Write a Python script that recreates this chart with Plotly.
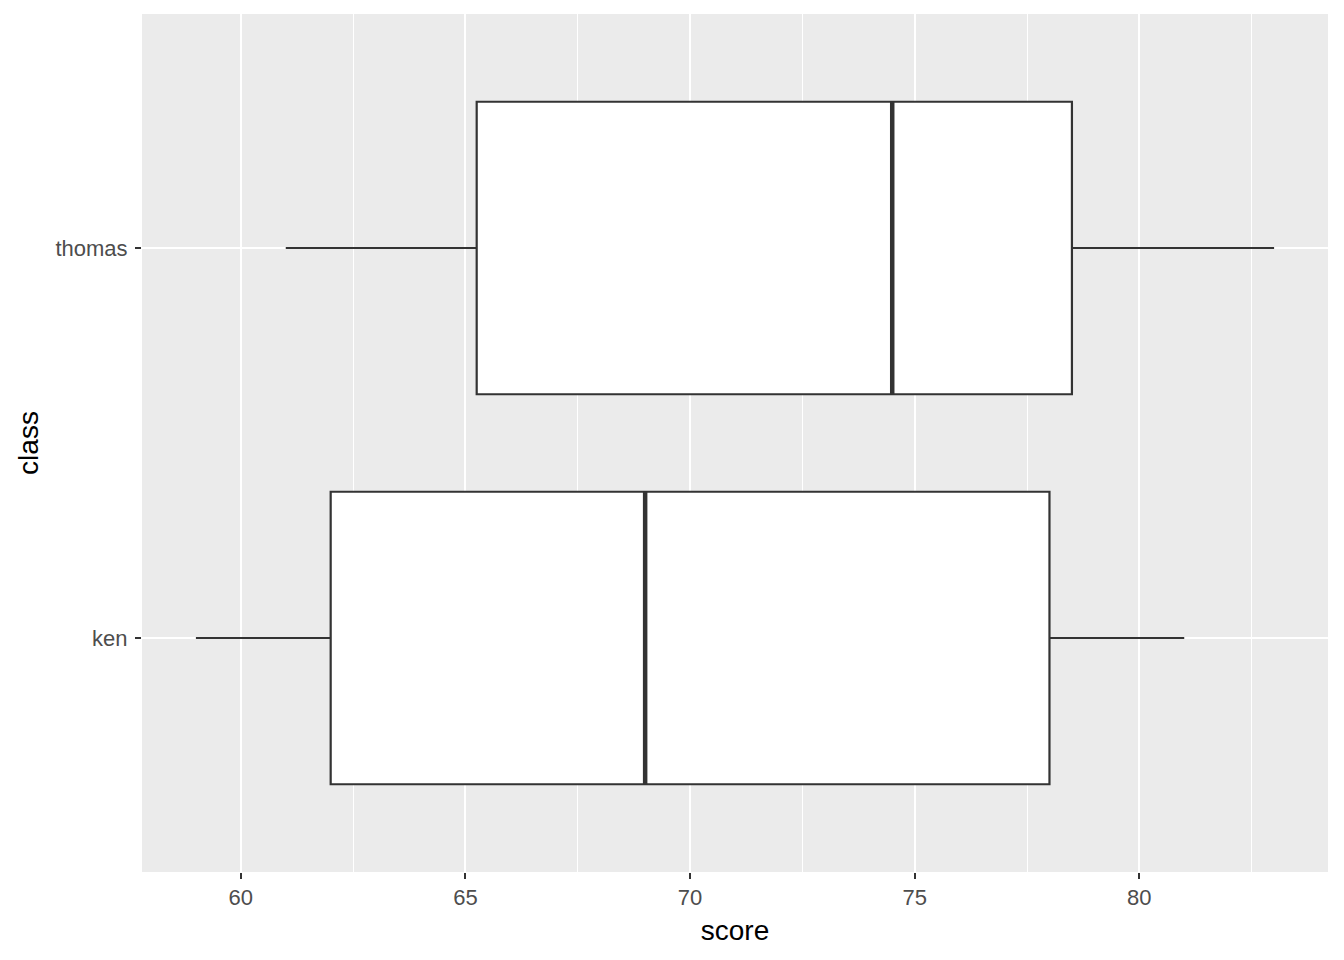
import plotly.graph_objects as go

classes = ["ken", "thomas"]
lower = [59, 61]
q1 = [62, 65.25]
median = [69, 74.5]
q3 = [78, 78.5]
upper = [81, 83]

box_width = 0.75
pos = list(range(len(classes)))

fig = go.Figure()
fig.add_trace(go.Box(
    y=pos, q1=q1, median=median, q3=q3, lowerfence=lower, upperfence=upper,
    orientation="h", width=box_width, whiskerwidth=0,
    fillcolor="white", line=dict(color="#333333", width=2.2),
    boxpoints=False, hoverinfo="skip", showlegend=False,
))
for i, m in enumerate(median):
    fig.add_trace(go.Scatter(
        x=[m, m], y=[pos[i] - box_width / 2, pos[i] + box_width / 2],
        mode="lines", line=dict(color="#333333", width=4.5),
        showlegend=False, hoverinfo="skip",
    ))

fig.update_layout(
    width=1336, height=952,
    margin=dict(l=134, r=16, t=6, b=88),
    paper_bgcolor="white", plot_bgcolor="#EBEBEB",
    font=dict(family="Liberation Sans, Arial, sans-serif", color="#4D4D4D"),
    xaxis=dict(
        range=[57.8, 84.2], tickvals=[60, 65, 70, 75, 80],
        showgrid=True, gridcolor="white", gridwidth=2.4, zeroline=False,
        ticks="outside", ticklen=6, tickwidth=2, tickcolor="#333333",
        tickfont=dict(size=22, color="#4D4D4D"),
        minor=dict(tickvals=[62.5, 67.5, 72.5, 77.5, 82.5], showgrid=True,
                   gridcolor="white", gridwidth=1.2, ticks=""),
        title=dict(text="score", font=dict(size=28, color="black"), standoff=10),
        showline=False,
    ),
    yaxis=dict(
        range=[-0.6, 1.6], tickvals=pos, ticktext=classes,
        showgrid=True, gridcolor="white", gridwidth=2.4, zeroline=False,
        ticks="outside", ticklen=6, tickwidth=2, tickcolor="#333333",
        tickfont=dict(size=22, color="#4D4D4D"), ticklabelstandoff=3,
        title=dict(text="class", font=dict(size=28, color="black"), standoff=8),
        showline=False,
    ),
)

fig.write_html("out.html")
